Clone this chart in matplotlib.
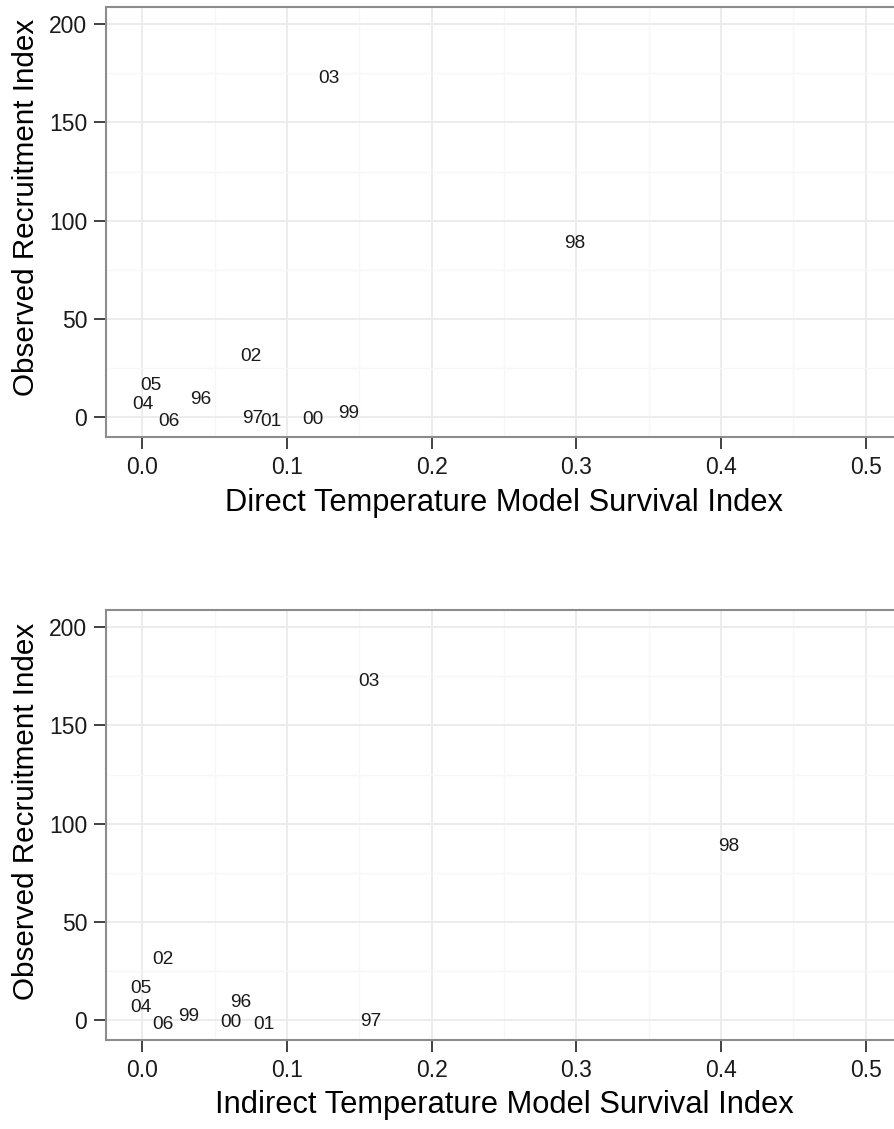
import numpy as np
import matplotlib
matplotlib.use('Agg')
import matplotlib.pyplot as plt
from matplotlib.ticker import MultipleLocator

plt.rcParams['font.family'] = ['Liberation Sans', 'DejaVu Sans']

# year labels and values
years = ['96', '97', '98', '99', '00', '01', '02', '03', '04', '05', '06']
recruit = [9.7, -0.1, 89.3, 2.7, -0.3, -1.5, 31.4, 173.1, 7.1, 17.0, -1.3]
direct_surv = [0.0404, 0.0763, 0.2991, 0.1426, 0.1178, 0.0888, 0.0749, 0.1289, 0.0005, 0.0059, 0.0187]
indirect_surv = [0.0684, 0.1578, 0.4053, 0.0323, 0.0612, 0.0842, 0.0143, 0.1565, -0.0011, -0.0008, 0.0143]

x_titles = ['Direct Temperature Model Survival Index', 'Indirect Temperature Model Survival Index']
y_title = 'Observed Recruitment Index'

W, H = 894, 1129
fig = plt.figure(figsize=(W / 100, H / 100), dpi=100)

def px_axes(left, top, right, bottom):
    return fig.add_axes([left / W, 1 - bottom / H, (right - left) / W, (bottom - top) / H])

def panel(ax, xs):
    ax.set_xlim(-0.025, 0.525)
    ax.set_ylim(-10.2, 208.8)
    ax.xaxis.set_minor_locator(MultipleLocator(0.05))
    ax.yaxis.set_minor_locator(MultipleLocator(25))
    ax.set_xticks([0, 0.1, 0.2, 0.3, 0.4, 0.5])
    ax.set_xticklabels(['0.0', '0.1', '0.2', '0.3', '0.4', '0.5'])
    ax.set_yticks([0, 50, 100, 150, 200])
    ax.grid(which='major', color='#ebebeb', lw=1.3)
    ax.grid(which='minor', color='#f7f7f7', lw=1.0)
    ax.set_axisbelow(True)
    for s in ax.spines.values():
        s.set_color('#8c8c8c')
        s.set_linewidth(1.5)
    ax.tick_params(which='major', length=8.5, width=1.3, color='#333333',
                   labelsize=16.5, labelcolor='#1a1a1a', pad=5)
    ax.tick_params(which='minor', length=0)
    for x, y, lab in zip(xs, recruit, years):
        ax.text(x, y - 0.8, lab, ha='center', va='center', fontsize=13.8, color='#1a1a1a')

ax1 = px_axes(106, 7, 902, 437)
panel(ax1, direct_surv)
ax2 = px_axes(106, 610, 902, 1040)
panel(ax2, indirect_surv)

fig.text(504 / W, 1 - 503 / H, x_titles[0], ha='center', va='center', fontsize=22.2)
fig.text(504 / W, 1 - 1105 / H, x_titles[1], ha='center', va='center', fontsize=22.2)
fig.text(26 / W, 1 - 207 / H, y_title, ha='center', va='center', rotation=90, fontsize=21.3)
fig.text(26 / W, 1 - 811 / H, y_title, ha='center', va='center', rotation=90, fontsize=21.3)

fig.savefig('out.png', dpi=100)
